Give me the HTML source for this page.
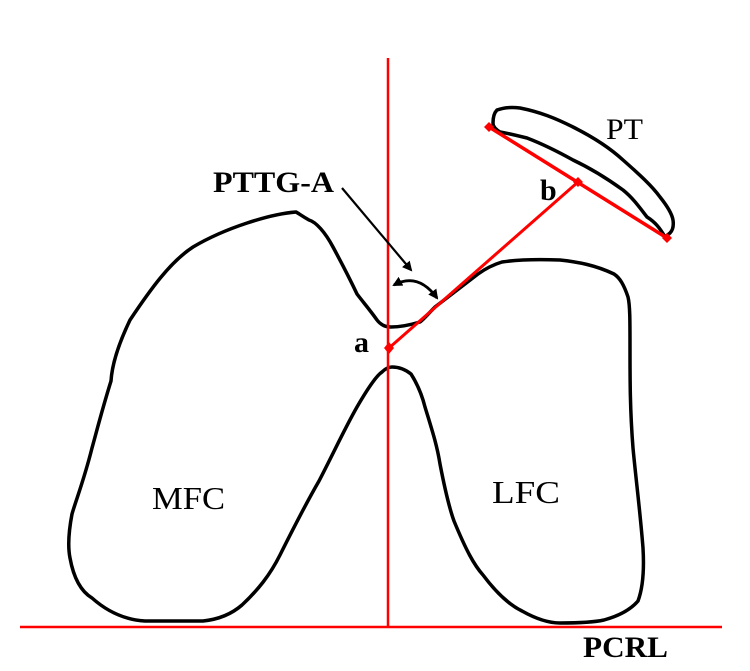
<!DOCTYPE html>
<html><head><meta charset="utf-8"><style>
html,body{margin:0;padding:0;background:#fff;}
svg{display:block;}
text{font-family:"Liberation Serif",serif;}
</style></head><body>
<svg width="750" height="671" viewBox="0 0 750 671" xmlns="http://www.w3.org/2000/svg">
<defs>
<marker id="ah" markerWidth="10" markerHeight="10" refX="8" refY="5" orient="auto" markerUnits="userSpaceOnUse">
<path d="M0,0 L10,5 L0,10 Z" fill="#000"/></marker>
<marker id="ah2" markerWidth="10" markerHeight="10" refX="8" refY="5" orient="auto-start-reverse" markerUnits="userSpaceOnUse">
<path d="M0,0 L10,5 L0,10 Z" fill="#000"/></marker>
</defs>
<path d="M296,212 C270,214 225,228 193,247 C170,262 150,290 130,320 C118,345 112,365 111,381 C102,410 97,430 92,448 C84,480 76,500 72,514 C68,535 68,548 70,558 C74,580 82,592 92,598 C110,614 128,620 145,621 L203,621 C222,619 234,612 242,605 C258,590 270,575 280,555 C295,525 308,500 319,481 C335,450 345,428 357,407 C368,388 376,376 382,372 C386,368 389,367 392,367 C400,367 406,370 411,374 C418,385 422,395 425,407 C432,430 437,445 440,464 C446,495 450,510 454,521 C466,550 474,565 483,575 C498,595 510,605 522,611 C538,620 550,623 560,623 C580,623 595,622 604,620 C622,615 632,608 638,601 C644,585 644,565 643,548 C640,510 636,480 633,448 C630,410 630,380 630,347 C630,320 630,305 628,297 C624,285 620,278 614,274 C595,265 578,262 560,260 C535,259 515,260 502,262 C492,265 485,269 478,274 C465,284 448,297 435,307 C428,314 424,319 420,322 C410,325 400,327 391,327 C384,327 380,324 377,320 C370,310 363,302 357,294 C348,275 340,260 333,247 C325,232 316,222 309,220 C302,216 298,213 296,212 Z" fill="none" stroke="#000" stroke-width="3.5" stroke-linejoin="round"/>
<path d="M497,110 C505,107 512,107 520,108 C540,112 555,118 573,127 C595,138 610,148 623,160 C640,175 652,186 660,197 C668,207 672,214 673,220 C674,227 672,231 670,233 L665,237 C660,228 655,222 647,217 C640,208 633,198 623,190 C605,177 590,168 573,160 C555,150 540,143 527,138 C515,135 506,133 500,132 C495,129 493,126 493,123 C493,118 494,113 497,110 Z" fill="none" stroke="#000" stroke-width="3.5" stroke-linejoin="round"/>
<line x1="388" y1="58" x2="388" y2="627" stroke="#f00" stroke-width="2.5"/>
<line x1="20" y1="627" x2="722" y2="627" stroke="#f00" stroke-width="2.5"/>
<line x1="389" y1="348" x2="578" y2="182" stroke="#f00" stroke-width="3"/>
<line x1="489" y1="127" x2="667" y2="238" stroke="#f00" stroke-width="3.5"/>
<path d="M389,342 L394,348 L389,354 L384,348 Z" fill="#f00"/>
<path d="M578,177 L583,182 L578,187 L573,182 Z" fill="#f00"/>
<path d="M489,122 L494,127 L489,132 L484,127 Z" fill="#f00"/>
<path d="M667,233 L672,238 L667,243 L662,238 Z" fill="#f00"/>
<line x1="342" y1="188" x2="411" y2="270" stroke="#000" stroke-width="2.2" marker-end="url(#ah)"/>
<path d="M394,285 Q418,272 437,298" fill="none" stroke="#000" stroke-width="2.8" marker-start="url(#ah2)" marker-end="url(#ah2)"/>
<text x="213" y="192" font-size="30" font-weight="bold" textLength="121" lengthAdjust="spacingAndGlyphs">PTTG-A</text>
<text x="606" y="139" font-size="30" textLength="37" lengthAdjust="spacingAndGlyphs">PT</text>
<text x="540" y="200" font-size="30" font-weight="bold">b</text>
<text x="354" y="352" font-size="30" font-weight="bold">a</text>
<text x="152" y="509" font-size="32" textLength="73" lengthAdjust="spacingAndGlyphs">MFC</text>
<text x="492" y="503" font-size="32" textLength="68" lengthAdjust="spacingAndGlyphs">LFC</text>
<text x="583" y="657" font-size="30" font-weight="bold" textLength="85" lengthAdjust="spacingAndGlyphs">PCRL</text>
</svg>
</body></html>
